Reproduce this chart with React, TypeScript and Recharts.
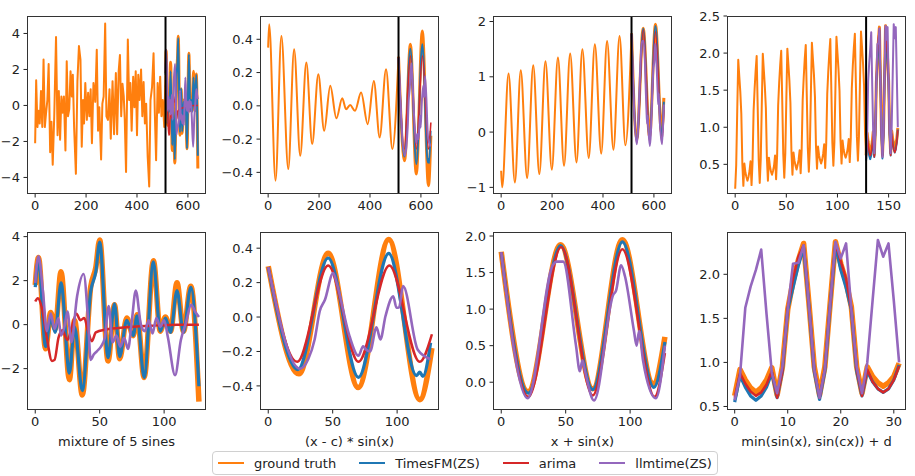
import React from "react"
import { LineChart, Line, XAxis, YAxis, ReferenceLine } from "recharts"

const FONT = '"DejaVu Sans", Verdana, sans-serif'
const C = { truth: "#ff7f0e", tfm: "#1f77b4", arima: "#d62728", llm: "#9467bd" }

// ---- panel 1 history (mixture of 5 sines, x 0..512)
const P1_HIST_X = [0, 4, 9, 14, 18, 23, 28, 33, 38, 43, 48, 53, 59, 64, 69, 75, 82, 88, 93, 98, 103, 108, 113, 119, 124, 129, 134, 139, 144, 148, 153, 160, 166, 172, 178, 183, 188, 192, 197, 203, 208, 213, 218, 223, 229, 236, 242, 247, 252, 259, 264, 269, 275, 280, 286, 292, 297, 304, 310, 317, 322, 328, 333, 338, 343, 348, 352, 357, 364, 369, 374, 379, 385, 390, 395, 400, 405, 410, 416, 421, 426, 431, 436, 442, 448, 453, 459, 465, 470, 475, 481, 486, 491, 496, 501, 507]
const P1_HIST_Y = [-2.1, 1.4, -1.2, -0.3, -1.0, 0.8, -1.2, 2.55, -1.2, -0.4, 0.3, 2.3, -2.6, -0.9, -3.3, -0.6, 3.8, -1.65, 0.8, -1.9, 0.5, -0.4, 0.5, -2.5, 2.45, -0.6, -0.2, 1.9, 0.5, 1.7, -1.2, -3.8, 1.35, 3.3, 2.55, -2.3, 0.3, -1.0, 1.25, -0.8, 0.7, -0.6, 0.9, -2.1, 1.25, 0.2, 3.1, -1.4, -0.1, -3.0, 0.1, 0.5, 4.55, -0.6, -0.8, 0.9, -1.85, 1.35, -1.6, 1.8, -1.6, 1.9, 2.8, -0.6, 1.2, 0.5, -0.8, -3.7, 3.66, 0.3, 1.25, -1.4, 1.6, -0.1, 1.9, -1.65, 1.7, 0.3, 2.0, -0.6, 1.3, -1.0, 0.1, -2.85, -4.5, 0.3, 1.0, 2.9, -0.4, -3.05, 1.25, -0.4, 1.6, -0.6, 0.3, -1.2]

// ---- panel 2 history ((x - c) * sin(x))
const P2_HIST_X = [0, 4, 29, 52, 79, 102, 126, 150, 173, 197, 220, 244, 268, 291, 306, 322, 341, 365, 391, 415, 438, 463, 488]
const P2_HIST_Y = [0.35, 0.49, -0.45, 0.42, -0.38, 0.34, -0.3, 0.26, -0.23, 0.19, -0.15, 0.12, -0.075, 0.045, -0.02, 0.005, -0.03, 0.08, -0.11, 0.15, -0.19, 0.22, -0.26]

// ---- panel 3 history (x + sin(x))
const P3_HIST_X = [0, 4, 29, 54, 77, 102, 126, 150, 174, 199, 223, 247, 271, 296, 319, 344, 368, 393, 416, 441, 465, 488]
const P3_HIST_Y = [-0.7, -1.0, 1.06, -0.91, 1.12, -0.83, 1.21, -0.76, 1.28, -0.68, 1.35, -0.61, 1.42, -0.55, 1.5, -0.47, 1.59, -0.39, 1.65, -0.32, 1.74, -0.24]

// ---- panel 4 history (min(sin(x), sin(cx)) + d), one value per step 0..127
const P4_HIST_Y = [
  0.17, 0.49, 1.22, 1.91, 1.69, 1.48, 1.18, 0.51, 0.21, 0.51, 0.39, 0.33, 0.28, 0.33, 0.41, 0.54, 0.22, 0.54, 1.22, 1.52, 1.76, 1.96, 1.28, 0.56,
  0.25, 0.57, 1.29, 1.99, 1.77, 1.55, 1.26, 0.59, 0.28, 0.59, 0.47, 0.4, 0.36, 0.41, 0.48, 0.62, 0.3, 0.62, 1.29, 1.6, 1.84, 2.03, 1.36, 0.64,
  0.32, 0.65, 1.37, 2.06, 1.85, 1.63, 1.33, 0.67, 0.36, 0.66, 0.55, 0.48, 0.43, 0.49, 0.56, 0.69, 0.38, 0.7, 1.37, 1.67, 1.92, 2.11, 1.43, 0.72,
  0.4, 0.72, 1.45, 2.14, 1.92, 1.71, 1.41, 0.74, 0.44, 0.74, 0.62, 0.56, 0.51, 0.56, 0.64, 0.77, 0.45, 0.78, 1.45, 1.75, 1.99, 2.19, 1.51, 0.79,
  0.48, 0.8, 1.52, 2.22, 2.0, 1.78, 1.49, 0.82, 0.51, 0.82, 0.7, 0.63, 0.59, 0.64, 0.71, 0.84, 0.53, 0.85, 1.52, 1.83, 2.07, 2.26, 1.59, 0.87,
  0.55, 0.88, 1.6, 2.29, 2.08, 1.86, 1.56, 0.9,
]

// ---- forecast horizons (bottom row; also the tail of the top row)
const P5_TRUTH_X = [0, 2.5, 8, 12, 15.5, 20, 26.5, 30.5, 36.5, 43, 47, 50, 56.5, 61.5, 65.5, 71, 76, 79, 84.5, 91.7, 97, 101, 105, 110, 115, 120.7, 127]
const P5_TRUTH_Y = [1.8, 3.05, -1.1, 0.55, -0.2, 2.4, -2.5, 0.2, -3.2, 1.7, 2.6, 3.85, -1.65, 0.9, -1.55, 0.3, -0.5, 0.45, -2.4, 2.9, -0.3, 0.35, -0.3, 1.9, -0.3, 1.75, -3.5]
const P5_TFM_Y = [1.7, 2.95, -1.0, 0.3, -0.35, 1.9, -2.2, -0.1, -3.0, 1.5, 2.4, 3.75, -1.5, 0.95, -1.45, 0.2, -0.5, 0.4, -2.4, 2.85, -0.3, 0.3, -0.35, 1.55, -0.35, 1.7, -2.8]
const P5_ARIMA_X = [0, 2, 5, 9, 13, 15, 18, 21, 25, 28, 32, 35, 38, 41, 44, 47, 55, 70, 90, 110, 127]
const P5_ARIMA_Y = [1.05, 1.2, 0.8, -0.6, -1.65, -1.6, -0.6, -0.25, -0.7, -0.2, 0.5, 0.2, 0.3, -0.3, -0.75, -0.35, -0.22, -0.12, -0.05, 0, 0]
const P5_LLM_X = [0, 2.5, 6, 9, 12, 15, 18, 20, 23, 25, 28, 32.5, 37.5, 41, 43, 45.5, 48, 51, 54, 57, 60, 63, 66, 69, 72, 75, 78, 82, 85, 88, 91, 94, 97, 100, 103, 108.5, 113, 117, 121, 124, 127]
const P5_LLM_Y = [1.9, 3.1, 1.5, -0.3, 0.5, -0.2, 0.3, -0.5, 0.0, 0.6, -0.8, 1.3, 2.3, 0.2, -1.6, -1.35, -1.2, -1.0, -0.6, 0.85, -0.8, -0.5, -1.0, -0.6, -1.1, 0.2, 1.55, 0.0, -0.3, 0.2, -0.4, 0.3, -0.1, 0.2, -0.6, -2.3, -0.7, 0.1, 0.9, 0.6, 0.35]

const P6_TRUTH_X = [0, 23.8, 46.5, 69.8, 93.5, 117.6, 127]
const P6_TRUTH_Y = [0.295, -0.33, 0.37, -0.41, 0.45, -0.48, -0.18]
const P6_TFM_X = [0, 23, 46.5, 70, 93.5, 115, 117.6, 120, 126]
const P6_TFM_Y = [0.29, -0.305, 0.343, -0.35, 0.37, -0.34, -0.32, -0.345, -0.15]
const P6_ARIMA_X = [0, 22.5, 46.5, 70, 94, 117.5, 127]
const P6_ARIMA_Y = [0.29, -0.26, 0.3, -0.26, 0.3, -0.26, -0.1]
const P6_LLM_X = [0, 24.5, 31, 36, 40, 44, 50.4, 53, 63, 70, 73.6, 76, 79, 84, 87, 91, 97, 99.5, 101.5, 104.6, 116, 126]
const P6_LLM_Y = [0.29, -0.3, -0.245, -0.13, 0.035, 0.1, 0.256, 0.2, -0.11, -0.225, -0.17, -0.19, -0.2, -0.06, -0.13, 0.006, 0.12, 0.054, 0.055, 0.18, -0.19, -0.245]

const P7_TRUTH_X = [0, 20.8, 46, 71, 94, 118, 127]
const P7_TRUTH_Y = [1.785, -0.13, 1.88, -0.09, 1.95, -0.02, 0.62]
const P7_TFM_X = [0, 21, 46, 71, 94, 118.5, 127]
const P7_TFM_Y = [1.78, -0.15, 1.87, -0.1, 1.92, -0.07, 0.55]
const P7_ARIMA_X = [0, 21, 46.5, 71, 94, 119, 127]
const P7_ARIMA_Y = [1.78, -0.2, 1.85, -0.18, 1.82, -0.2, 0.4]
const P7_LLM_X = [0, 20.5, 40, 43, 48, 58, 61, 63, 65, 72, 87, 89, 93, 96, 103, 105, 107, 110, 120, 127]
const P7_LLM_Y = [1.78, -0.22, 1.6, 1.65, 1.65, 0.5, 0.15, 0.3, 0.15, -0.25, 1.2, 1.25, 1.6, 1.45, 0.7, 0.5, 0.7, 0.3, -0.22, 0.5]

// one value per step 0..31
const P8_TRUTH = [0.62, 0.92, 0.8, 0.71, 0.66, 0.71, 0.8, 0.94, 0.63, 0.95, 1.6, 1.92, 2.16, 2.35, 1.67, 0.95, 0.63, 0.95, 1.67, 2.37, 2.12, 1.92, 1.63, 0.95, 0.65, 0.95, 0.84, 0.77, 0.73, 0.77, 0.84, 0.99]
const P8_TFM = [0.55, 0.85, 0.72, 0.62, 0.57, 0.62, 0.72, 0.88, 0.6, 0.9, 1.6, 1.85, 2.1, 2.3, 1.65, 0.9, 0.58, 0.9, 1.65, 2.33, 2.05, 1.85, 1.6, 0.9, 0.62, 0.9, 0.78, 0.7, 0.66, 0.7, 0.8, 0.97]
const P8_ARIMA = [0.6, 0.88, 0.76, 0.67, 0.62, 0.66, 0.75, 0.9, 0.6, 0.9, 1.62, 1.95, 2.2, 2.33, 1.65, 0.92, 0.6, 0.92, 1.66, 2.35, 2.15, 1.95, 1.6, 0.92, 0.62, 0.92, 0.78, 0.7, 0.66, 0.7, 0.8, 0.96]
const P8_LLM = [0.57, 0.85, 1.62, 1.86, 2.05, 2.28, 1.55, 0.88, 0.65, 0.95, 1.6, 2.12, 2.13, 2.33, 1.65, 0.92, 0.6, 0.92, 1.66, 2.37, 2.18, 2.35, 1.6, 0.95, 0.65, 1.0, 1.7, 2.39, 2.2, 2.35, 1.7, 1.0]

const X_LABELS = ["mixture of 5 sines", "(x - c) * sin(x)", "x + sin(x)", "min(sin(x), sin(cx)) + d"]
const LEGEND = [
  { name: "ground truth", color: C.truth },
  { name: "TimesFM(ZS)", color: C.tfm },
  { name: "arima", color: C.arima },
  { name: "llmtime(ZS)", color: C.llm },
]

const pts = (xs: number[], ys: number[], dx = 0) => xs.map((x, i) => ({ x: x + dx, y: ys[i] }))
const seq = (ys: number[], start = 0) => ys.map((y, i) => ({ x: start + i, y }))

// layout
const COLS = [27, 260, 493, 727]
const ROWS = [16, 232]
const W = 179
const H = 178
const PADL = 50
const PADR = 6
const PADT = 6
const PADB = 26

type Series = { data: { x: number; y: number }[]; color: string; width: number; curve: "linear" | "monotone" }

function fmt(dec: number) {
  return (v: number) => v.toFixed(dec).replace("-", "\u2212")
}

function Panel(props: {
  col: number
  row: number
  xDomain: number[]
  yDomain: number[]
  xTicks: number[]
  yTicks: number[]
  yDec: number
  series: Series[]
  vline?: number
}) {
  const L = COLS[props.col]
  const T = ROWS[props.row]
  const tick = { fontSize: 13, fill: "#222", fontFamily: FONT }
  return (
    <>
      <div style={{ position: "absolute", left: L - PADL, top: T - PADT }}>
        <LineChart width={W + PADL + PADR} height={H + PADT + PADB} margin={{ top: PADT, right: PADR, bottom: 0, left: 0 }}>
          <XAxis
            type="number"
            dataKey="x"
            domain={props.xDomain}
            ticks={props.xTicks}
            interval={0}
            allowDataOverflow
            axisLine={false}
            tickLine={{ stroke: "#222" }}
            tickSize={3.5}
            tickMargin={3.5}
            height={PADB}
            tick={tick}
          />
          <YAxis
            type="number"
            domain={props.yDomain}
            ticks={props.yTicks}
            interval={0}
            allowDataOverflow
            axisLine={false}
            tickLine={{ stroke: "#222" }}
            tickSize={3.5}
            tickMargin={3.5}
            width={PADL}
            tick={tick}
            tickFormatter={fmt(props.yDec)}
          />
          {props.series.map((s, i) => (
            <Line
              key={i}
              data={s.data}
              dataKey="y"
              type={s.curve}
              stroke={s.color}
              strokeWidth={s.width}
              dot={false}
              activeDot={false}
              isAnimationActive={false}
              strokeLinejoin="round"
            />
          ))}
          {props.vline !== undefined && <ReferenceLine x={props.vline} stroke="#000" strokeWidth={2} />}
        </LineChart>
      </div>
      <div
        style={{
          position: "absolute",
          left: L,
          top: T,
          width: W,
          height: H,
          border: "1px solid #333",
          boxSizing: "border-box",
          pointerEvents: "none",
        }}
      />
    </>
  )
}

// top row: history + forecast horizon offset to where it starts
function topSeries(hist: { x: number; y: number }[], truth: Series["data"], tfm: Series["data"], arima: Series["data"], llm: Series["data"], curve: Series["curve"]): Series[] {
  return [
    { data: [...hist, truth[0]], color: C.truth, width: 2, curve },
    { data: truth, color: C.truth, width: 3, curve },
    { data: tfm, color: C.tfm, width: 2, curve },
    { data: arima, color: C.arima, width: 1.6, curve },
    { data: llm, color: C.llm, width: 2, curve },
  ]
}

function bottomSeries(truth: Series["data"], tfm: Series["data"], arima: Series["data"], llm: Series["data"], curve: Series["curve"]): Series[] {
  return [
    { data: truth, color: C.truth, width: 5.5, curve },
    { data: tfm, color: C.tfm, width: 3.2, curve },
    { data: arima, color: C.arima, width: 2.5, curve },
    { data: llm, color: C.llm, width: 2.6, curve },
  ]
}

export default function App() {
  const X_TOP = [-32, 671]
  const X_BOT = [-6.4, 132.5]
  return (
    <div style={{ position: "absolute", left: 0, top: 0, width: 915, height: 476, background: "#fff", fontFamily: FONT, overflow: "hidden" }}>
      {/* top row */}
      <Panel
        col={0}
        row={0}
        xDomain={X_TOP}
        yDomain={[-4.92, 4.97]}
        xTicks={[0, 200, 400, 600]}
        yTicks={[-4, -2, 0, 2, 4]}
        yDec={0}
        vline={512}
        series={[
          { data: [...pts(P1_HIST_X, P1_HIST_Y), ...pts([0], P5_TRUTH_Y, 512)], color: C.truth, width: 2, curve: "linear" },
          { data: pts(P5_TRUTH_X, P5_TRUTH_Y, 512), color: C.truth, width: 3, curve: "monotone" },
          { data: pts(P5_TRUTH_X, P5_TFM_Y, 512), color: C.tfm, width: 2, curve: "monotone" },
          { data: pts(P5_ARIMA_X, P5_ARIMA_Y, 512), color: C.arima, width: 1.6, curve: "monotone" },
          { data: pts(P5_LLM_X, P5_LLM_Y, 512), color: C.llm, width: 2, curve: "monotone" },
        ]}
      />
      <Panel
        col={1}
        row={0}
        xDomain={X_TOP}
        yDomain={[-0.53, 0.54]}
        xTicks={[0, 200, 400, 600]}
        yTicks={[-0.4, -0.2, 0, 0.2, 0.4]}
        yDec={1}
        vline={512}
        series={topSeries(
          pts(P2_HIST_X, P2_HIST_Y),
          pts(P6_TRUTH_X, P6_TRUTH_Y, 512),
          pts(P6_TFM_X, P6_TFM_Y, 512),
          pts(P6_ARIMA_X, P6_ARIMA_Y, 512),
          pts(P6_LLM_X, P6_LLM_Y, 512),
          "monotone"
        )}
      />
      <Panel
        col={2}
        row={0}
        xDomain={X_TOP}
        yDomain={[-1.12, 2.1]}
        xTicks={[0, 200, 400, 600]}
        yTicks={[-1, 0, 1, 2]}
        yDec={0}
        vline={512}
        series={topSeries(
          pts(P3_HIST_X, P3_HIST_Y),
          pts(P7_TRUTH_X, P7_TRUTH_Y, 512),
          pts(P7_TFM_X, P7_TFM_Y, 512),
          pts(P7_ARIMA_X, P7_ARIMA_Y, 512),
          pts(P7_LLM_X, P7_LLM_Y, 512),
          "monotone"
        )}
      />
      <Panel
        col={3}
        row={0}
        xDomain={[-8, 167]}
        yDomain={[0.1, 2.5]}
        xTicks={[0, 50, 100, 150]}
        yTicks={[0.5, 1, 1.5, 2, 2.5]}
        yDec={1}
        vline={128}
        series={topSeries(seq(P4_HIST_Y), seq(P8_TRUTH, 128), seq(P8_TFM, 128), seq(P8_ARIMA, 128), seq(P8_LLM, 128), "linear")}
      />

      {/* bottom row: forecast horizon only */}
      <Panel
        col={0}
        row={1}
        xDomain={X_BOT}
        yDomain={[-3.88, 4.21]}
        xTicks={[0, 50, 100]}
        yTicks={[-2, 0, 2, 4]}
        yDec={0}
        series={bottomSeries(
          pts(P5_TRUTH_X, P5_TRUTH_Y),
          pts(P5_TRUTH_X, P5_TFM_Y),
          pts(P5_ARIMA_X, P5_ARIMA_Y),
          pts(P5_LLM_X, P5_LLM_Y),
          "monotone"
        )}
      />
      <Panel
        col={1}
        row={1}
        xDomain={X_BOT}
        yDomain={[-0.54, 0.494]}
        xTicks={[0, 50, 100]}
        yTicks={[-0.4, -0.2, 0, 0.2, 0.4]}
        yDec={1}
        series={bottomSeries(
          pts(P6_TRUTH_X, P6_TRUTH_Y),
          pts(P6_TFM_X, P6_TFM_Y),
          pts(P6_ARIMA_X, P6_ARIMA_Y),
          pts(P6_LLM_X, P6_LLM_Y),
          "monotone"
        )}
      />
      <Panel
        col={2}
        row={1}
        xDomain={X_BOT}
        yDomain={[-0.38, 2.055]}
        xTicks={[0, 50, 100]}
        yTicks={[0, 0.5, 1, 1.5, 2]}
        yDec={1}
        series={bottomSeries(
          pts(P7_TRUTH_X, P7_TRUTH_Y),
          pts(P7_TFM_X, P7_TFM_Y),
          pts(P7_ARIMA_X, P7_ARIMA_Y),
          pts(P7_LLM_X, P7_LLM_Y),
          "monotone"
        )}
      />
      <Panel
        col={3}
        row={1}
        xDomain={[-1.45, 32.3]}
        yDomain={[0.46, 2.48]}
        xTicks={[0, 10, 20, 30]}
        yTicks={[0.5, 1, 1.5, 2]}
        yDec={1}
        series={bottomSeries(seq(P8_TRUTH), seq(P8_TFM), seq(P8_ARIMA), seq(P8_LLM), "linear")}
      />

      {X_LABELS.map((t, i) => (
        <div
          key={t}
          style={{
            position: "absolute",
            left: COLS[i],
            width: W,
            top: 434,
            textAlign: "center",
            fontSize: 13,
            color: "#222",
            whiteSpace: "nowrap",
          }}
        >
          {t}
        </div>
      ))}

      <div
        style={{
          position: "absolute",
          left: 212,
          top: 451,
          height: 24,
          boxSizing: "border-box",
          border: "1px solid #d0d0d0",
          borderRadius: 4,
          display: "flex",
          alignItems: "center",
          gap: 23,
          padding: "0 5px",
          fontSize: 13,
          color: "#222",
          background: "#fff",
        }}
      >
        {LEGEND.map((l) => (
          <div key={l.name} style={{ display: "flex", alignItems: "center", whiteSpace: "nowrap" }}>
            <span style={{ display: "inline-block", width: 26, height: 2, background: l.color, marginRight: 10 }} />
            <span>{l.name}</span>
          </div>
        ))}
      </div>
    </div>
  )
}
